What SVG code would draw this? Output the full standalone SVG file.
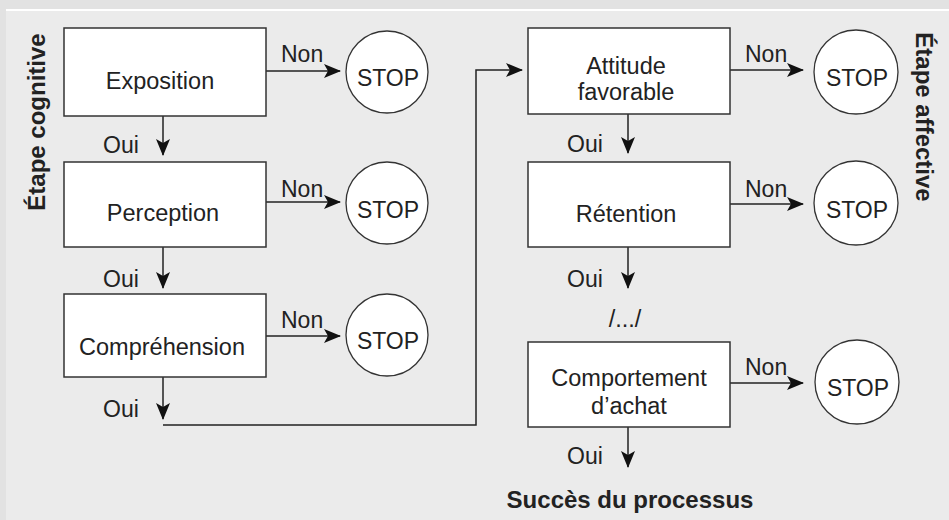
<svg xmlns="http://www.w3.org/2000/svg" width="949" height="520" viewBox="0 0 949 520">
<style>
.box{fill:#fff;stroke:#333;stroke-width:1.5}
.stop{fill:#fff;stroke:#333;stroke-width:1.3}
.t{font-family:"Liberation Sans",Arial,sans-serif;font-size:23.5px;fill:#222;text-anchor:middle}
.s{font-family:"Liberation Sans",Arial,sans-serif;font-size:23px;fill:#222;text-anchor:middle}
.l{font-family:"Liberation Sans",Arial,sans-serif;font-size:23px;fill:#222}
.b{font-family:"Liberation Sans",Arial,sans-serif;font-size:24px;font-weight:bold;fill:#222;text-anchor:middle}
.c{fill:none;stroke:#222;stroke-width:1.5}
</style>
<defs>
<marker id="ah" viewBox="0 0 17 14" refX="16" refY="7" markerWidth="17" markerHeight="14" markerUnits="userSpaceOnUse" orient="auto">
<path d="M0,0 L17,7 L0,14 L4,7 Z" fill="#111"/>
</marker>
</defs>
<rect x="0" y="0" width="949" height="520" fill="#e2e2e2"/>
<rect x="6" y="9" width="943" height="2" fill="#fff"/>
<rect x="6" y="11" width="943" height="509" fill="#ebebeb"/>

<g id="connectors">
<path class="c" d="M266,71 H340" marker-end="url(#ah)"/>
<path class="c" d="M266,202 H340" marker-end="url(#ah)"/>
<path class="c" d="M266,336 H340" marker-end="url(#ah)"/>
<path class="c" d="M163,116 V155" marker-end="url(#ah)"/>
<path class="c" d="M163,247 V288" marker-end="url(#ah)"/>
<path class="c" d="M163,377 V419" marker-end="url(#ah)"/>
<path class="c" d="M163,425 H476 V70 H522" marker-end="url(#ah)"/>
<path class="c" d="M730,70 H803" marker-end="url(#ah)"/>
<path class="c" d="M730,204 H803" marker-end="url(#ah)"/>
<path class="c" d="M730,383 H803" marker-end="url(#ah)"/>
<path class="c" d="M628,114 V153" marker-end="url(#ah)"/>
<path class="c" d="M628,247 V288" marker-end="url(#ah)"/>
<path class="c" d="M628,427 V467" marker-end="url(#ah)"/>
<text class="l" x="281" y="62">Non</text>
<text class="l" x="281" y="197">Non</text>
<text class="l" x="281" y="328">Non</text>
<text class="l" x="745" y="62">Non</text>
<text class="l" x="745" y="197">Non</text>
<text class="l" x="745" y="375">Non</text>
<text class="l" x="103" y="153">Oui</text>
<text class="l" x="103" y="287">Oui</text>
<text class="l" x="103" y="417">Oui</text>
<text class="l" x="567" y="152">Oui</text>
<text class="l" x="567" y="287">Oui</text>
<text class="l" x="567" y="464">Oui</text>
</g>

<g id="exposition"><rect class="box" x="64" y="28" width="202" height="88"/><text class="t" x="160" y="89">Exposition</text></g>
<g id="perception"><rect class="box" x="64" y="162" width="202" height="85"/><text class="t" x="163" y="221">Perception</text></g>
<g id="comprehension"><rect class="box" x="64" y="294" width="202" height="83"/><text class="t" x="162" y="355">Compréhension</text></g>
<g id="stop1"><circle class="stop" cx="387" cy="72" r="41"/><text class="s" x="388" y="86">STOP</text></g>
<g id="stop2"><circle class="stop" cx="387" cy="203" r="41"/><text class="s" x="388" y="218">STOP</text></g>
<g id="stop3"><circle class="stop" cx="387" cy="335" r="41"/><text class="s" x="388" y="349">STOP</text></g>

<g id="attitude"><rect class="box" x="528" y="28" width="202" height="86"/><text class="t" x="626" y="74">Attitude</text><text class="t" x="626" y="100">favorable</text></g>
<g id="retention"><rect class="box" x="528" y="162" width="202" height="85"/><text class="t" x="626" y="222">Rétention</text></g>
<g id="ellipsis"><text class="t" x="625" y="327">/.../</text></g>
<g id="comportement"><rect class="box" x="528" y="342" width="202" height="85"/><text class="t" x="629" y="386">Comportement</text><text class="t" x="629" y="414">d’achat</text></g>
<g id="stop4"><circle class="stop" cx="856" cy="72" r="42"/><text class="s" x="857" y="86">STOP</text></g>
<g id="stop5"><circle class="stop" cx="856" cy="203" r="42"/><text class="s" x="857" y="218">STOP</text></g>
<g id="stop6"><circle class="stop" cx="857" cy="382" r="42"/><text class="s" x="858" y="396">STOP</text></g>

<g id="labels">
<text class="b" transform="translate(45,122) rotate(-90)">Étape cognitive</text>
<text class="b" transform="translate(916,117) rotate(90)">Étape affective</text>
<text class="b" x="630" y="508">Succès du processus</text>
</g>
</svg>
